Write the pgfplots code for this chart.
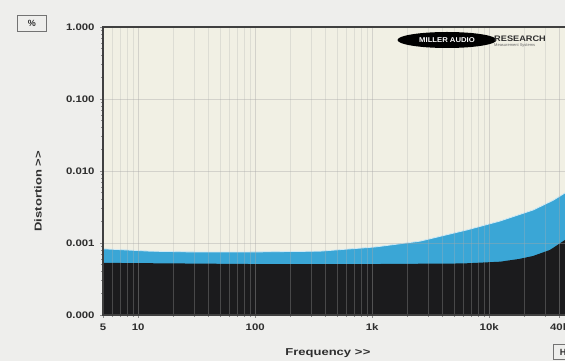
\documentclass[border=0pt]{standalone}
\usepackage{pgfplots}
\pgfplotsset{compat=1.18}
\usepackage{fontspec}
\setmainfont{Liberation Sans}
\usetikzlibrary{shapes.geometric}
\definecolor{bgout}{HTML}{EEEEEC}
\definecolor{bgin}{HTML}{F1F0E4}
\definecolor{distblue}{HTML}{3AA6D6}
\definecolor{distblack}{HTML}{1B1B1D}
\definecolor{txt}{HTML}{2E2E2E}
\newcommand{\gtgt}{\textgreater\kern0.5pt\textgreater}
\begin{document}
\begin{tikzpicture}[x=1pt,y=1pt]
\fill[bgout] (0,0) rectangle (565,361);
\useasboundingbox (0,0) rectangle (565,361);
\clip (0,0) rectangle (565,361);
\begin{axis}[
  at={(103pt,46pt)}, anchor=south west,
  scale only axis, width=468pt, height=288pt,
  xmode=log, ymode=log,
  xmin=5, xmax=50000, ymin=1e-4, ymax=1,
  axis background/.style={fill=bgin},
  axis on top,
  xtick={5,10,100,1000,10000,40000},
  xticklabels={5,10,100,1k,10k,40k},
  minor xtick={6,7,8,9,20,30,40,50,60,70,80,90,200,300,400,500,600,700,800,900,2000,3000,4000,5000,6000,7000,8000,9000,20000,30000,50000},
  ytick={1e-4,1e-3,1e-2,1e-1,1},
  yticklabels={0.000,0.001,0.010,0.100,1.000},
  xtick pos=bottom, ytick pos=left,
  tick align=outside,
  major tick length=3pt, minor tick length=2pt,
  tick style={draw=black!45, line width=0.6pt},
  xmajorgrids, xminorgrids, ymajorgrids,
  major grid style={draw=black!35, opacity=0.4, line width=0.8pt},
  minor grid style={draw=black!30, opacity=0.3, line width=0.7pt},
  axis line style={draw=black!75, line width=1.4pt},
  tick label style={font=\bfseries\fontsize{9.5}{9.5}\selectfont, text=txt, xscale=1.2},
  xticklabel style={yshift=-2pt},
  yticklabel style={xshift=-1pt},
  /pgf/number format/assume math mode=true,
]
\addplot[fill=distblue, draw=white!75!distblue, line width=0.8pt] coordinates {
 (5,0.00083) (8,0.0008) (12.6,0.00077) (30,0.00075) (90,0.00075)
 (358,0.00077) (1057,0.00088) (2560,0.00106) (6460,0.00152)
 (12400,0.00202) (23700,0.00287) (35000,0.0039) (44400,0.00495) (50000,0.0056)
 (50000,0.0001) (5,0.0001)
} -- cycle;
\addplot[fill=distblack, draw=none] coordinates {
 (5,0.00053) (100,0.00051) (1000,0.00051) (6000,0.00052) (12400,0.00055)
 (18000,0.0006) (23700,0.00066) (33000,0.0008) (44400,0.0011) (50000,0.00125)
 (50000,0.0001) (5,0.0001)
} -- cycle;
\end{axis}
\node[draw=black!55, line width=0.8pt, minimum width=29pt, minimum height=16pt, inner sep=0pt,
  font=\bfseries\fontsize{9}{9}\selectfont, text=txt] at (32,338) {\%};
\node[rotate=90, font=\bfseries\fontsize{10}{10}\selectfont, text=txt, xscale=1.3] at (38,170) {Distortion \gtgt};
\node[font=\bfseries\fontsize{10}{10}\selectfont, text=txt, xscale=1.3] at (328,8) {Frequency \gtgt};
\node[draw=black!55, line width=0.8pt, minimum width=24pt, minimum height=15pt, inner sep=0pt,
  anchor=west, font=\bfseries\fontsize{9}{9}\selectfont, text=txt] at (553,9) {Hz};
\node[ellipse, fill=black, inner sep=0pt, minimum width=90pt, minimum height=16pt,
  text=white, font=\bfseries\fontsize{7}{7}\selectfont, xscale=1.1] at (447,321) {MILLER AUDIO};
\node[anchor=west, inner sep=0pt, font=\bfseries\fontsize{8}{8}\selectfont, text=txt, xscale=1.15] at (494,322.5) {RESEARCH};
\node[anchor=west, inner sep=0pt, font=\fontsize{4}{4}\selectfont, text=black!60] at (494,315.5) {Measurement Systems};
\end{tikzpicture}
\end{document}
